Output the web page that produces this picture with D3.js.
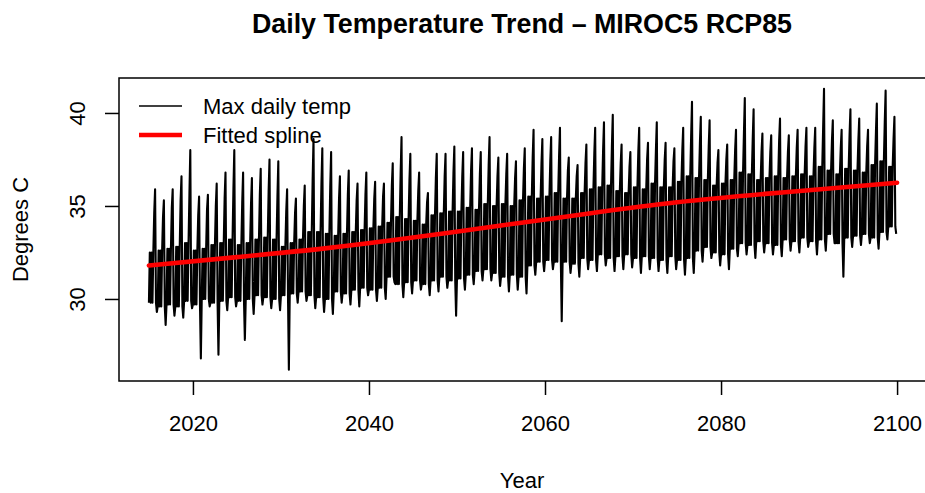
<!DOCTYPE html>
<html>
<head>
<meta charset="utf-8">
<script src="https://cdn.jsdelivr.net/npm/d3@7"></script>
<style>
  body { margin: 0; background: #fff; }
  svg text { font-family: "Liberation Sans", Arial, Helvetica, sans-serif; }
</style>
</head>
<body>
<div id="chart"></div>
<script>
// data, one value per year 2015..2099
const startYear = 2015;

// hottest day of each year (the tall spikes)
const peakTemp = [
  35.9, 35.3, 35.9, 36.6, 38.0, 35.5, 35.6, 36.2, 36.8, 38.0,
  36.8, 36.5, 37.0, 37.5, 37.4, 35.9, 35.4, 36.1, 38.6, 38.1,
  37.9, 36.6, 36.9, 36.2, 36.8, 36.3, 36.2, 37.3, 38.7, 37.8,
  36.8, 35.7, 37.8, 37.8, 38.2, 37.9, 38.1, 37.9, 38.7, 37.6,
  37.8, 37.4, 38.1, 39.1, 38.6, 38.7, 39.2, 37.6, 37.2, 38.3,
  39.2, 39.5, 39.9, 38.3, 37.9, 39.2, 38.4, 39.5, 38.4, 38.1,
  39.2, 40.6, 39.8, 39.6, 38.0, 38.3, 39.1, 40.8, 40.2, 38.9,
  38.8, 39.7, 38.8, 39.1, 39.2, 39.2, 41.3, 39.6, 39.1, 40.2,
  39.7, 39.1, 40.5, 41.2, 39.8
];

// second hot spell of each year
const secondPeak = [
  34.6, 34.4, 34.9, 35.3, 35.6, 34.5, 34.8, 35.0, 35.4, 35.9,
  35.2, 35.1, 35.6, 35.8, 35.5, 34.7, 34.6, 35.0, 36.4, 36.2,
  36.0, 35.4, 35.6, 35.3, 35.6, 35.4, 35.5, 36.1, 36.8, 36.4,
  35.8, 35.2, 36.5, 36.6, 36.8, 36.6, 36.9, 36.7, 37.2, 36.6,
  36.7, 36.5, 37.0, 37.6, 37.3, 37.4, 37.7, 36.9, 36.6, 37.3,
  37.8, 38.0, 38.2, 37.3, 37.1, 37.9, 37.5, 38.0, 37.5, 37.4,
  38.0, 38.7, 38.4, 38.2, 37.3, 37.5, 38.0, 38.9, 38.6, 37.9,
  37.9, 38.5, 37.9, 38.1, 38.2, 38.1, 39.2, 38.5, 38.1, 38.8,
  38.5, 38.2, 39.0, 39.5, 38.6
];

// coolest reading of each year (the downward spikes)
const lowTemp = [
  29.3, 28.6, 29.1, 29.0, 29.5, 26.8, 29.6, 27.0, 29.4, 29.6,
  27.8, 29.2, 29.7, 29.5, 29.4, 26.2, 29.8, 29.9, 29.5, 29.3,
  29.2, 29.8, 29.7, 29.6, 30.2, 29.9, 30.0, 30.9, 30.1, 30.3,
  30.5, 30.2, 30.4, 30.6, 29.1, 30.5, 30.8, 31.0, 31.0, 30.7,
  30.4, 30.5, 30.3, 31.3, 31.5, 31.6, 28.8, 31.4, 31.2, 31.6,
  31.5, 31.8, 31.5, 31.6, 31.7, 31.4, 31.6, 31.5, 31.4, 31.6,
  31.3, 31.4, 32.0, 32.2, 31.8, 31.6, 32.3, 32.4, 32.2, 32.5,
  32.4, 32.3, 32.6, 32.5, 32.8, 32.4, 32.6, 33.0, 31.2, 32.8,
  32.9, 33.0, 32.7, 33.2, 33.5
];

// upper edge of the dense daily band
const bandTop = [
  32.5, 32.6, 32.7, 32.8, 33.0, 32.6, 32.7, 32.9, 33.0, 33.2,
  32.9, 33.0, 33.2, 33.3, 33.2, 32.8, 33.0, 33.2, 33.6, 33.6,
  33.5, 33.4, 33.5, 33.6, 33.7, 33.8, 33.9, 34.1, 34.4, 34.3,
  34.2, 34.0, 34.5, 34.6, 34.7, 34.7, 34.9, 34.8, 35.1, 35.0,
  35.1, 35.0, 35.3, 35.5, 35.4, 35.5, 35.7, 35.4, 35.4, 35.7,
  35.9, 36.0, 36.1, 35.8, 35.7, 36.0, 35.9, 36.2, 36.0, 36.0,
  36.3, 36.6, 36.5, 36.4, 36.1, 36.2, 36.4, 36.8, 36.7, 36.4,
  36.5, 36.6, 36.5, 36.6, 36.7, 36.6, 37.1, 36.9, 36.7, 37.0,
  36.9, 36.8, 37.2, 37.4, 37.1
];

// lower edge of the dense daily band
const bandBottom = [
  29.8, 29.6, 29.7, 29.6, 29.9, 29.7, 30.0, 29.8, 29.9, 30.1,
  29.9, 30.0, 30.2, 30.1, 30.0, 30.2, 30.3, 30.4, 30.2, 30.1,
  30.0, 30.4, 30.3, 30.5, 30.6, 30.5, 30.6, 31.2, 30.8, 30.9,
  31.0, 30.8, 31.0, 31.2, 31.0, 31.1, 31.3, 31.5, 31.6, 31.4,
  31.2, 31.3, 31.2, 31.8, 32.0, 32.1, 32.0, 32.0, 31.9, 32.2,
  32.1, 32.4, 32.2, 32.3, 32.4, 32.2, 32.3, 32.2, 32.1, 32.3,
  32.1, 32.2, 32.6, 32.8, 32.5, 32.4, 32.7, 33.0, 32.9, 33.1,
  33.0, 32.9, 33.2, 33.1, 33.3, 33.1, 33.2, 33.5, 33.0, 33.3,
  33.4, 33.5, 33.3, 33.6, 33.9
];

// fitted spline
const splineYears = [2015, 2025, 2035, 2045, 2055, 2065, 2075, 2085, 2095, 2100];
const splineTemp  = [31.8, 32.25, 32.72, 33.3, 33.95, 34.6, 35.2, 35.65, 36.05, 36.25];

const xTicks = [2020, 2040, 2060, 2080, 2100];
const yTicks = [30, 35, 40];

const outerWidth = 925;
const outerHeight = 493;
const margin = {top: 78, left: 119, bottom: 112, right: -2};
const width = outerWidth - margin.left - margin.right;
const height = outerHeight - margin.top - margin.bottom;

const root = d3.select("#chart")
  .append("svg")
  .attr("width", outerWidth)
  .attr("height", outerHeight)
  .style("display", "block");

const svg = root.append("g")
  .attr("transform", `translate(${margin.left}, ${margin.top})`);

// R style: 4% padding round the data range
const xScale = d3.scaleLinear().domain([2011.6, 2103.4]).range([0, width]);
const yScale = d3.scaleLinear().domain([25.59, 41.88]).range([height, 0]);

// daily series: cool-season zigzag, the hot spell building to the peak, then the dip
const daily = [];
peakTemp.forEach((p, i) => {
  const seq = [bandBottom[i], bandTop[i], bandBottom[i], bandTop[i], bandBottom[i],
               bandTop[i], secondPeak[i], p, bandBottom[i], lowTemp[i]];
  seq.forEach((v, k) => daily.push({t: startYear + i + k / seq.length, v: v}));
});

const line = d3.line()
  .x(d => xScale(d.t))
  .y(d => yScale(d.v));

svg.append("path")
  .datum(daily)
  .attr("fill", "none")
  .attr("stroke", "#000")
  .attr("stroke-width", 2.1)
  .attr("stroke-linejoin", "round")
  .attr("d", line);

const spline = d3.line()
  .x((d, i) => xScale(splineYears[i]))
  .y(d => yScale(d))
  .curve(d3.curveNatural);

svg.append("path")
  .datum(splineTemp)
  .attr("fill", "none")
  .attr("stroke", "#ff0000")
  .attr("stroke-width", 4.6)
  .attr("stroke-linecap", "round")
  .attr("d", spline);

// box
svg.append("rect")
  .attr("width", width)
  .attr("height", height)
  .attr("fill", "none")
  .attr("stroke", "#000")
  .attr("stroke-width", 1.5);

// axes
svg.append("g")
  .attr("transform", `translate(0, ${height})`)
  .call(d3.axisBottom(xScale).tickValues(xTicks).tickFormat(d3.format("d"))
    .tickSize(14).tickSizeOuter(0).tickPadding(20))
  .call(g => g.select(".domain").remove())
  .call(g => g.selectAll("line").attr("stroke-width", 1.5))
  .call(g => g.selectAll("text").attr("font-size", 22).attr("font-family", null));

svg.append("g")
  .call(d3.axisLeft(yScale).tickValues(yTicks).tickSize(14).tickSizeOuter(0))
  .call(g => g.select(".domain").remove())
  .call(g => g.selectAll("line").attr("stroke-width", 1.5))
  .call(g => g.selectAll("text")
    .attr("font-size", 22).attr("font-family", null)
    .attr("x", null).attr("dy", null)
    .attr("text-anchor", "middle")
    .attr("transform", "translate(-34, 0) rotate(-90)"));

// titles
root.append("text")
  .attr("x", margin.left + width / 2 - 1)
  .attr("y", 33)
  .attr("text-anchor", "middle")
  .attr("font-size", 26.8)
  .attr("font-weight", "bold")
  .text("Daily Temperature Trend \u2013 MIROC5 RCP85");

root.append("text")
  .attr("x", margin.left + width / 2 - 1)
  .attr("y", 488)
  .attr("text-anchor", "middle")
  .attr("font-size", 22)
  .text("Year");

root.append("text")
  .attr("transform", `translate(28, ${margin.top + height / 2}) rotate(-90)`)
  .attr("text-anchor", "middle")
  .attr("font-size", 22)
  .text("Degrees C");

// legend
const legendItems = [
  {label: "Max daily temp", color: "#000", w: 1.6},
  {label: "Fitted spline", color: "#ff0000", w: 4.6}
];
const legend = svg.append("g").attr("transform", "translate(20, 28)");
legendItems.forEach((d, i) => {
  const g = legend.append("g").attr("transform", `translate(0, ${i * 29})`);
  g.append("line").attr("x1", 0).attr("x2", 43)
    .attr("stroke", d.color).attr("stroke-width", d.w).attr("stroke-linecap", "butt");
  g.append("text").attr("x", 64).attr("dy", "0.35em")
    .attr("font-size", 22).text(d.label);
});
</script>
</body>
</html>
